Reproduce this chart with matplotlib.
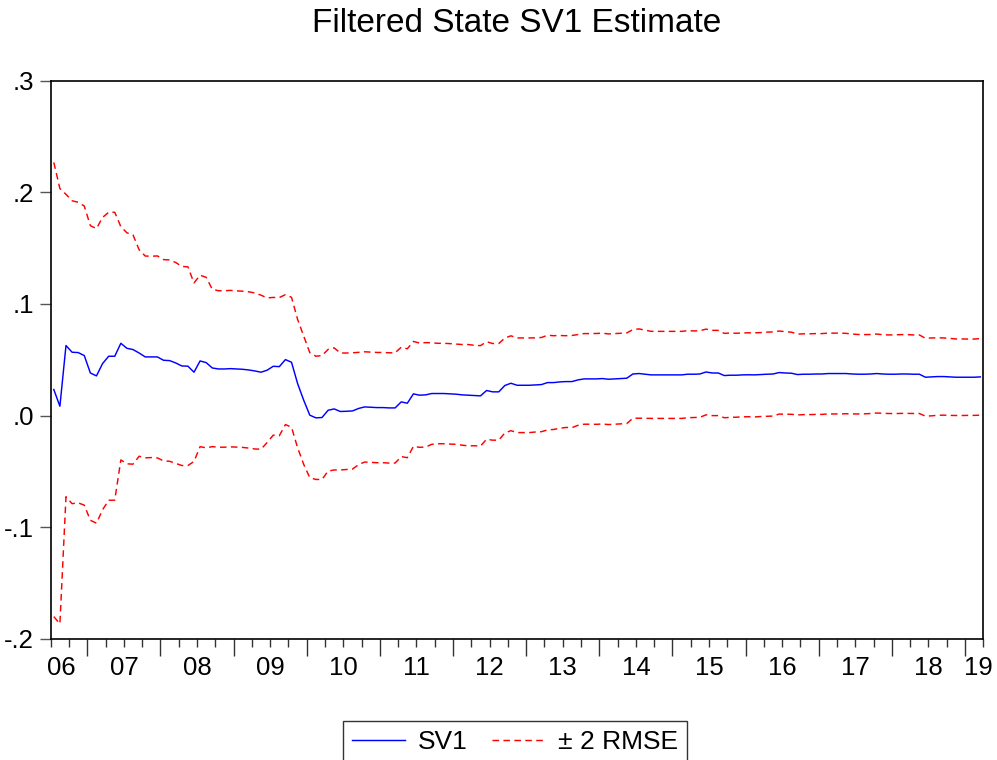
import numpy as np
import pandas as pd
import matplotlib
matplotlib.use("Agg")
import matplotlib.pyplot as plt
from matplotlib.transforms import blended_transform_factory

plt.rcParams['font.family'] = ['Liberation Sans', 'DejaVu Sans']

# monthly filtered state, first obs 2006M07
start = '2006-07'
sv1 = [0.0233, 0.0083, 0.0627, 0.0567, 0.0564, 0.0537, 0.0381, 0.0355, 0.0465, 0.0531,
       0.0531, 0.0647, 0.0602, 0.0591, 0.0560, 0.0525, 0.0525, 0.0525, 0.0495, 0.0492,
       0.0471, 0.0444, 0.0442, 0.0388, 0.0489, 0.0474, 0.0426, 0.0417, 0.0417, 0.0420,
       0.0417, 0.0414, 0.0408, 0.0399, 0.0388, 0.0406, 0.0441, 0.0438, 0.0501, 0.0477,
       0.0286, 0.0137, 0.0003, -0.0021, -0.0018, 0.0047, 0.0059, 0.0036, 0.0038, 0.0041,
       0.0063, 0.0077, 0.0074, 0.0071, 0.0071, 0.0068, 0.0068, 0.0122, 0.0110, 0.0194,
       0.0182, 0.0185, 0.0197, 0.0197, 0.0197, 0.0194, 0.0191, 0.0185, 0.0182, 0.0179,
       0.0176, 0.0224, 0.0212, 0.0212, 0.0269, 0.0289, 0.0271, 0.0271, 0.0271, 0.0274,
       0.0277, 0.0295, 0.0295, 0.0301, 0.0304, 0.0304, 0.0319, 0.0328, 0.0328, 0.0328,
       0.0331, 0.0325, 0.0328, 0.0331, 0.0334, 0.0372, 0.0376, 0.0370, 0.0364, 0.0364,
       0.0364, 0.0364, 0.0364, 0.0364, 0.0370, 0.0370, 0.0372, 0.0390, 0.0381, 0.0381,
       0.0358, 0.0361, 0.0361, 0.0364, 0.0365, 0.0364, 0.0367, 0.0370, 0.0372, 0.0385,
       0.0381, 0.0379, 0.0367, 0.0370, 0.0370, 0.0372, 0.0372, 0.0376, 0.0376, 0.0376,
       0.0376, 0.0372, 0.0370, 0.0370, 0.0372, 0.0376, 0.0372, 0.0370, 0.0370, 0.0372,
       0.0372, 0.0370, 0.0370, 0.0343, 0.0346, 0.0349, 0.0349, 0.0346, 0.0343, 0.0343,
       0.0343, 0.0343, 0.0346]

# width of the +/- 2 RMSE band (2 x RMSE)
band = [0.2035, 0.1950, 0.1355, 0.1357, 0.1347, 0.1340, 0.1320, 0.1320, 0.1310, 0.1290,
        0.1290, 0.1045, 0.1035, 0.1027, 0.0925, 0.0904, 0.0902, 0.0905, 0.0902, 0.0902,
        0.0900, 0.0892, 0.0890, 0.0800, 0.0768, 0.0764, 0.0705, 0.0701, 0.0701, 0.0701,
        0.0700, 0.0700, 0.0700, 0.0699, 0.0690, 0.0648, 0.0617, 0.0619, 0.0582, 0.0582,
        0.0575, 0.0575, 0.0560, 0.0552, 0.0555, 0.0545, 0.0547, 0.0524, 0.0522, 0.0521,
        0.0503, 0.0494, 0.0494, 0.0494, 0.0494, 0.0494, 0.0494, 0.0490, 0.0488, 0.0470,
        0.0467, 0.0468, 0.0455, 0.0450, 0.0450, 0.0450, 0.0449, 0.0451, 0.0454, 0.0450,
        0.0450, 0.0437, 0.0433, 0.0433, 0.0425, 0.0425, 0.0424, 0.0424, 0.0424, 0.0422,
        0.0422, 0.0424, 0.0420, 0.0416, 0.0411, 0.0413, 0.0407, 0.0406, 0.0406, 0.0407,
        0.0407, 0.0406, 0.0406, 0.0406, 0.0406, 0.0397, 0.0400, 0.0395, 0.0390, 0.0390,
        0.0390, 0.0390, 0.0390, 0.0390, 0.0390, 0.0388, 0.0388, 0.0384, 0.0382, 0.0382,
        0.0378, 0.0378, 0.0376, 0.0376, 0.0376, 0.0377, 0.0376, 0.0377, 0.0377, 0.0372,
        0.0370, 0.0368, 0.0362, 0.0362, 0.0362, 0.0362, 0.0362, 0.0362, 0.0362, 0.0362,
        0.0360, 0.0358, 0.0356, 0.0355, 0.0354, 0.0354, 0.0352, 0.0352, 0.0353, 0.0353,
        0.0353, 0.0352, 0.0352, 0.0349, 0.0349, 0.0347, 0.0346, 0.0345, 0.0343, 0.0343,
        0.0342, 0.0342, 0.0343]

yticks = [-0.2, -0.1, 0.0, 0.1, 0.2, 0.3]
ytick_labels = ['-.2', '-.1', '.0', '.1', '.2', '.3']

per = pd.period_range(start, periods=len(sv1), freq='M')
x = per.year + (per.month - 0.5) / 12.0
sv1 = np.array(sv1)
band = np.array(band)
upper = sv1 + band
lower = sv1 - band

xmin = per[0].year + (per[0].month - 1) / 12.0
xmax = per[-1].year + per[-1].month / 12.0

fig = plt.figure(figsize=(9.97, 7.6), dpi=100)
ax = fig.add_axes([0.0509, 0.1596, 0.9354, 0.7342])

ax.plot(x, sv1, color='#0000ff', lw=1.05, label='SV1')
ax.plot(x, upper, color='#ff0000', lw=1.05, dashes=(4.5, 3), label='± 2 RMSE')
ax.plot(x, lower, color='#ff0000', lw=1.05, dashes=(4.5, 3))

ax.set_xlim(xmin, xmax)
ax.set_ylim(-0.2, 0.3)
ax.set_yticks(yticks)
ax.set_yticklabels(ytick_labels, fontsize=18.5)
ax.tick_params(axis='y', length=8, width=1, color='#555555', pad=4)

# year ticks long, quarter ticks short, year labels in each year
years = np.arange(int(np.ceil(xmin)), int(np.floor(xmax)) + 1)
quarters = np.arange(xmin, xmax + 0.01, 0.25)
ax.set_xticks(years)
ax.set_xticks(quarters, minor=True)
ax.set_xticklabels([])
ax.tick_params(axis='x', which='major', length=12, width=1, color='#333333')
ax.tick_params(axis='x', which='minor', length=6, width=1, color='#333333')
trans = blended_transform_factory(ax.transData, ax.transAxes)
for y in range(int(np.floor(xmin)), int(np.floor(xmax)) + 1):
    lo = max(y, xmin)
    hi = min(y + 1, xmax)
    xc = (lo + hi) / 2
    if lo > y:  # partial first year
        xc = lo + 0.15
    if hi < y + 1:  # partial last year
        xc = y + 0.18
    ax.text(xc, -0.052, f"{y % 100:02d}", transform=trans,
            ha='center', va='center', fontsize=18.5)

for s in ax.spines.values():
    s.set_linewidth(1.2)
    s.set_color('black')

ax.set_title('Filtered State SV1 Estimate', fontsize=24, pad=35)

leg = fig.legend(loc='upper center', bbox_to_anchor=(0.5165, 1 - 720.7 / 760), ncol=2,
                 fontsize=19, frameon=True, fancybox=False, edgecolor='black',
                 handlelength=2.0, handletextpad=0.5, columnspacing=0.9,
                 borderpad=0.35, borderaxespad=0)
leg.get_frame().set_linewidth(1.0)

fig.savefig('out.png', dpi=100)
